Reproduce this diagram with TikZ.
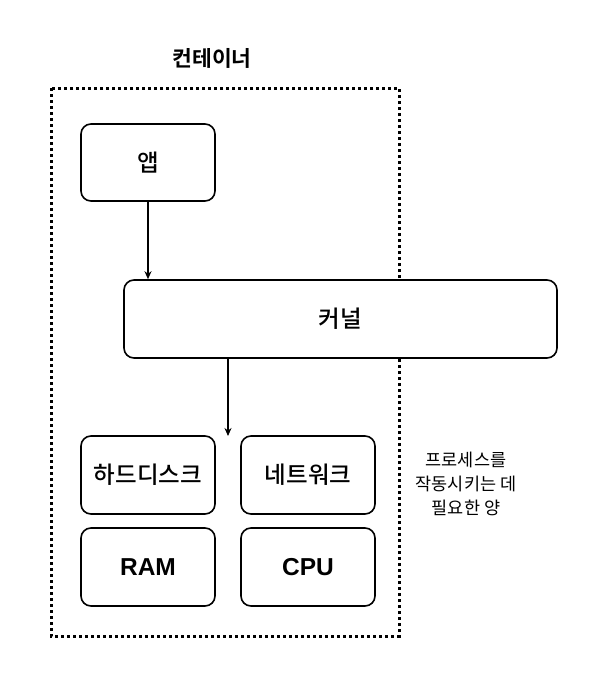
\documentclass[tikz,border=0pt]{standalone}
\usepackage{fontspec}
\setmainfont{Noto Sans CJK KR}
\newfontfamily\krbold{Noto Sans CJK KR Bold}
\newfontfamily\krmed{Noto Sans CJK KR Medium}
\newfontfamily\latinbold{Liberation Sans}[BoldFont={Liberation Sans Bold}]
\usetikzlibrary{arrows.meta}
\begin{document}
\begin{tikzpicture}[x=1pt,y=-1pt,
  boxst/.style={draw, line width=1.6pt, rounded corners=10pt, fill=white, inner sep=0pt},
  lbl/.style={font=\krmed\fontsize{23.5}{26}\selectfont},
  lbllat/.style={font=\latinbold\bfseries\fontsize{24.5}{26}\selectfont},
  conn/.style={line width=1.1pt, -{Stealth[length=8pt,width=7pt]}}]
\useasboundingbox (0,0) rectangle (591,681);
\node[font=\krbold\fontsize{21.5}{24}\selectfont] (title) at (212,58) {컨테이너};
\draw[line width=3pt, dash pattern=on 3pt off 3pt] (51,88) rectangle (399,636);
\node[boxst, minimum width=134pt, minimum height=77pt] (app) at (148,162.5) {};
\node[lbl] at (app) {앱};
\node[boxst, minimum width=433pt, minimum height=78pt] (kernel) at (340.5,319) {};
\node[lbl] at (kernel) {커널};
\node[boxst, minimum width=134pt, minimum height=78pt] (hdd) at (148,475) {};
\node[lbl] at (hdd) {하드디스크};
\node[boxst, minimum width=134pt, minimum height=78pt] (net) at (308,475) {};
\node[lbl] at (net) {네트워크};
\node[boxst, minimum width=134pt, minimum height=78pt] (ram) at (148,567) {};
\node[lbllat] at (ram) {RAM};
\node[boxst, minimum width=134pt, minimum height=78pt] (cpu) at (308,567) {};
\node[lbllat] at (cpu) {CPU};
\draw[conn] (app.south) -- (app.south |- kernel.north);
\draw[conn] (228,358) coordinate (kb) -- (228,436) coordinate (kt);
\node[align=center, font=\fontsize{17.5}{24}\selectfont] (note) at (466,484) {프로세스를\\작동시키는 데\\필요한 양};
\end{tikzpicture}
\end{document}
